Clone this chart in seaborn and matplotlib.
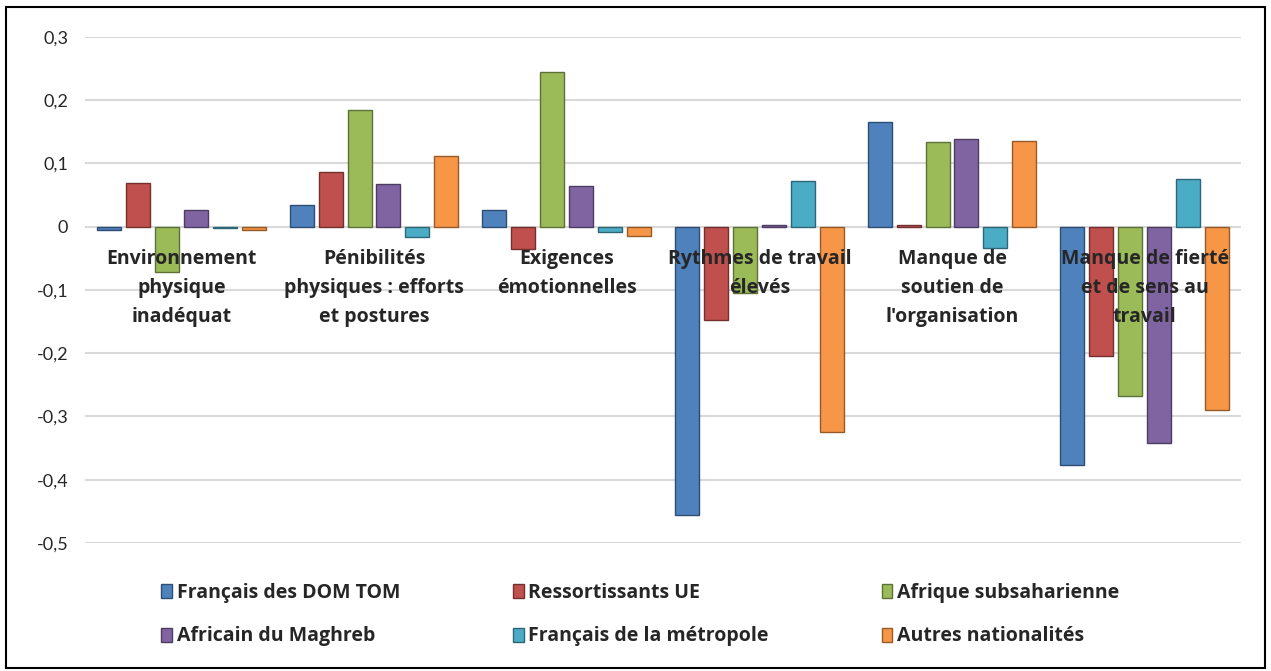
import matplotlib.pyplot as plt
import matplotlib.patches as mpatches
import matplotlib.colors as mcolors
from matplotlib.ticker import FuncFormatter, MultipleLocator
import pandas as pd
import seaborn as sns

# data
categories = [
    "Environnement\nphysique\ninadéquat",
    "Pénibilités\nphysiques : efforts\net postures",
    "Exigences\némotionnelles",
    "Rythmes de travail\nélevés",
    "Manque de\nsoutien de\nl'organisation",
    "Manque de fierté\net de sens au\ntravail",
]
groups = ["Français des DOM TOM", "Ressortissants UE", "Afrique subsaharienne",
          "Africain du Maghreb", "Français de la métropole", "Autres nationalités"]

dom_tom = [-0.005, 0.035, 0.026, -0.456, 0.165, -0.377]
ressortissants_ue = [0.069, 0.087, -0.035, -0.148, 0.002, -0.204]
afrique_subsaharienne = [-0.071, 0.185, 0.245, -0.105, 0.134, -0.267]
maghreb = [0.027, 0.068, 0.064, 0.002, 0.138, -0.342]
metropole = [-0.002, -0.017, -0.008, 0.073, -0.033, 0.076]
autres = [-0.005, 0.112, -0.014, -0.325, 0.135, -0.289]

colors = ["#4F81BD", "#C0504D", "#9BBB59", "#8064A2", "#4BACC6", "#F79646"]

series = [dom_tom, ressortissants_ue, afrique_subsaharienne, maghreb, metropole, autres]
rows = []
for g, vals in zip(groups, series):
    for c, v in zip(categories, vals):
        rows.append({"categorie": c, "groupe": g, "valeur": v})
df = pd.DataFrame(rows)

sns.set_style("white")
plt.rcParams["font.family"] = ["Lato", "DejaVu Sans"]

fig = plt.figure(figsize=(12.71, 6.71), dpi=100)
ax = fig.add_axes([0.0669, 0.1908, 0.9095, 0.7541])

sns.barplot(data=df, x="categorie", y="valeur", hue="groupe", hue_order=groups,
            palette=colors, saturation=1, width=0.9, gap=0.17, legend=False,
            ax=ax, zorder=3)

# darker edges per series
for cont, col in zip(ax.containers, colors):
    dark = tuple(c * 0.6 for c in mcolors.to_rgb(col))
    for bar in cont:
        bar.set_edgecolor(dark)
        bar.set_linewidth(1.0)

ax.set_ylim(-0.5, 0.3)
ax.set_xlim(-0.5, len(categories) - 0.5)
ax.yaxis.set_major_locator(MultipleLocator(0.1))
ax.yaxis.set_major_formatter(
    FuncFormatter(lambda v, p: "0" if abs(v) < 1e-9 else f"{v:.1f}".replace(".", ",")))
ax.yaxis.grid(True, color="#d9d9d9", linewidth=1.5, zorder=0)
ax.set_axisbelow(True)
for s in ax.spines.values():
    s.set_visible(False)
ax.tick_params(axis="y", length=0, labelsize=13, pad=12)
ax.set_xticks([])
ax.set_xlabel("")
ax.set_ylabel("")

# category labels just under the zero line
for i, lab in enumerate(categories):
    ax.text(i, -0.035, lab, ha="center", va="top", fontsize=14, fontweight="bold",
            family=["Open Sans", "DejaVu Sans"], linespacing=1.6, zorder=5)

# legend
handles = [mpatches.Patch(facecolor=c, edgecolor=tuple(x * 0.6 for x in mcolors.to_rgb(c)),
                          label=g) for g, c in zip(groups, colors)]
order = [0, 3, 1, 4, 2, 5]
fig.legend([handles[i] for i in order], [groups[i] for i in order],
           loc="upper left", bbox_to_anchor=(0.113, 0.157), ncol=3, frameon=False,
           handlelength=0.55, handleheight=0.75, handletextpad=0.25,
           columnspacing=5.8, labelspacing=1.2,
           prop={"weight": "bold", "size": 14, "family": ["Open Sans", "DejaVu Sans"]})

# outer border
fig.patches.append(mpatches.Rectangle((0.005, 0.005), 0.99, 0.985, transform=fig.transFigure,
                                      fill=False, edgecolor="black", linewidth=1.5))

fig.savefig("out.png", dpi=100)
